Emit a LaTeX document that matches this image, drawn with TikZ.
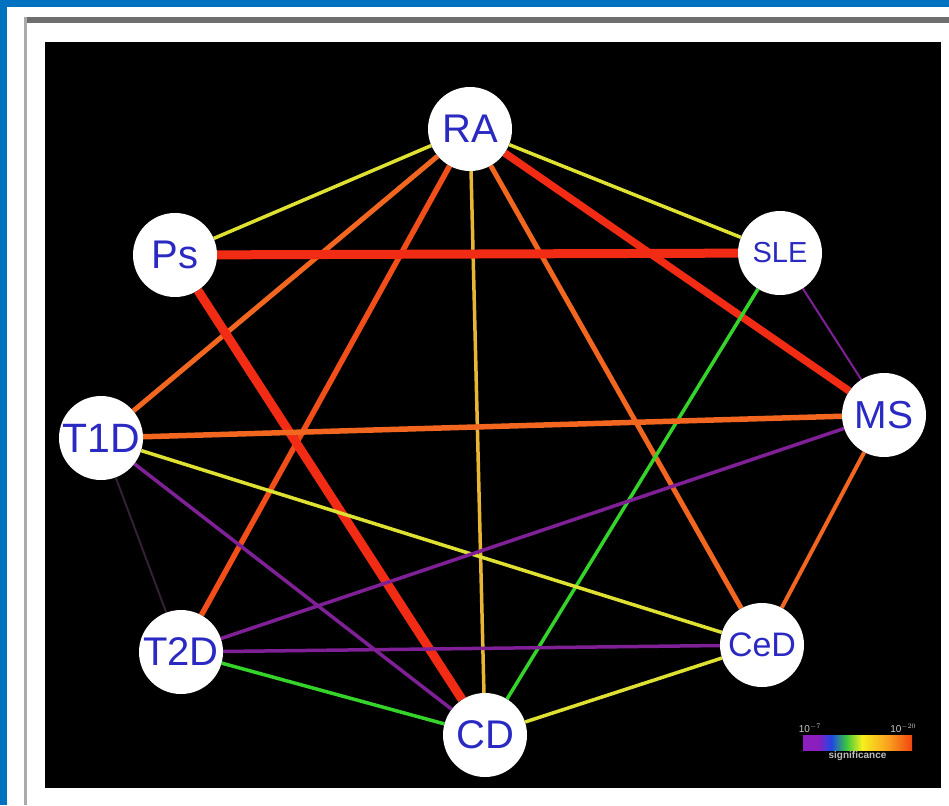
\documentclass[tikz,border=0pt]{standalone}
\usepackage{fontspec}
\setmainfont{Liberation Sans}

% layers: panel below, links in the middle, disease nodes on top
\pgfdeclarelayer{panel}
\pgfdeclarelayer{links}
\pgfsetlayers{panel,links,main}

\definecolor{frameblue}{RGB}{0,114,192}
\definecolor{rulegray}{RGB}{110,110,110}
\definecolor{sidegray}{RGB}{170,170,170}
\definecolor{labelblue}{RGB}{42,42,195}
\definecolor{lnkyellow}{RGB}{222,224,50}
\definecolor{lnkgold}{RGB}{232,182,52}
\definecolor{lnkorange}{RGB}{242,102,32}
\definecolor{lnkorred}{RGB}{242,78,26}
\definecolor{lnkred}{RGB}{242,44,20}
\definecolor{lnkpurple}{RGB}{128,32,150}
\definecolor{lnkgreen}{RGB}{52,212,42}
\definecolor{lnkfaint}{RGB}{52,32,52}
\definecolor{sigpurple}{RGB}{140,30,190}
\definecolor{sigblue}{RGB}{30,70,230}
\definecolor{siggreen}{RGB}{60,200,60}
\definecolor{sigyellow}{RGB}{245,240,30}
\definecolor{sigorange}{RGB}{250,160,30}
\definecolor{sigred}{RGB}{240,70,15}

% significance scale, low (left) to high (right)
\pgfdeclarehorizontalshading{sigbar}{100bp}{%
  color(0bp)=(sigpurple); color(25bp)=(sigpurple); color(32bp)=(sigpurple);
  color(38bp)=(sigblue); color(45bp)=(siggreen); color(52bp)=(sigyellow);
  color(64bp)=(sigorange); color(75bp)=(sigred); color(100bp)=(sigred)}

\newcommand{\labfont}[1]{\fontsize{#1}{#1}\selectfont}

\begin{document}
\begin{tikzpicture}[x=1pt,y=-1pt,
  dnode/.style={circle, fill=white, minimum size=84pt, inner sep=0pt,
    text=labelblue},
  lnk/.style={line width=#1},
  lnk/.default=3pt]

\useasboundingbox (0,0) rectangle (949,805);

\begin{pgfonlayer}{panel}
  \fill[white] (0,0) rectangle (949,805);
  \fill[frameblue] (0,0) rectangle (949,7);
  \fill[frameblue] (0,0) rectangle (7,805);
  \fill[rulegray] (24,17) rectangle (949,23);
  \fill[sidegray] (24,17) rectangle (27,805);
  \fill[black] (45,42) rectangle (941,788);
\end{pgfonlayer}

% disease nodes
\node[dnode, font=\labfont{40}] (RA)  at (470,129) {RA};
\node[dnode, font=\labfont{40}] (Ps)  at (175,255) {Ps};
\node[dnode, font=\labfont{29}] (SLE) at (780,253) {SLE};
\node[dnode, font=\labfont{41}] (T1D) at (101,438) {T1D};
\node[dnode, font=\labfont{39}] (MS)  at (884,415) {MS};
\node[dnode, font=\labfont{40}] (T2D) at (181,652) {T2D};
\node[dnode, font=\labfont{34}] (CeD) at (762,645) {CeD};
\node[dnode, font=\labfont{40}] (CD)  at (485,735) {CD};

% shared-locus links, coloured and sized by significance
\begin{pgfonlayer}{links}
  \draw[lnk=3.5pt, lnkyellow] (RA) -- (Ps);
  \draw[lnk=3.5pt, lnkyellow] (RA) -- (SLE);
  \draw[lnk=5pt, lnkorange] (RA) -- (T1D);
  \draw[lnk=5.5pt, lnkorred] (RA) -- (T2D);
  \draw[lnk=3.5pt, lnkgold] (RA) -- (CD);
  \draw[lnk=5pt, lnkorange] (RA) -- (CeD);
  \draw[lnk=7.5pt, lnkred] (RA) -- (MS);
  \draw[lnk=9pt, lnkred] (Ps) -- (SLE);
  \draw[lnk=9pt, lnkred] (Ps) -- (CD);
  \draw[lnk=2pt, lnkpurple] (SLE) -- (MS);
  \draw[lnk=3.5pt, lnkgreen] (SLE) -- (CD);
  \draw[lnk=5.5pt, lnkorange] (T1D) -- (MS);
  \draw[lnk=3.5pt, lnkyellow] (T1D) -- (CeD);
  \draw[lnk=3.5pt, lnkpurple] (T1D) -- (CD);
  \draw[lnk=2pt, lnkfaint] (T1D) -- (T2D);
  \draw[lnk=3.5pt, lnkpurple] (MS) -- (T2D);
  \draw[lnk=4pt, lnkorange] (MS) -- (CeD);
  \draw[lnk=3.5pt, lnkpurple] (T2D) -- (CeD);
  \draw[lnk=3.5pt, lnkgreen] (T2D) -- (CD);
  \draw[lnk=3.5pt, lnkyellow] (CeD) -- (CD);
\end{pgfonlayer}

% colour scale
\node[shade, shading=sigbar, minimum width=109pt, minimum height=15pt,
  inner sep=0pt] (bar) at (857.5,742.5) {};
\node[text=white!80!black, font=\labfont{10}, anchor=south] (lo)
  at ([xshift=7pt,yshift=-1pt]bar.north west) {10$^{-7}$};
\node[text=white!80!black, font=\labfont{10}, anchor=south] (hi)
  at ([xshift=-9pt,yshift=-1pt]bar.north east) {10$^{-20}$};
\node[text=white!75!black, font=\bfseries\labfont{10}, anchor=north] (sig)
  at ([yshift=2pt]bar.south) {significance};

\end{tikzpicture}
\end{document}
